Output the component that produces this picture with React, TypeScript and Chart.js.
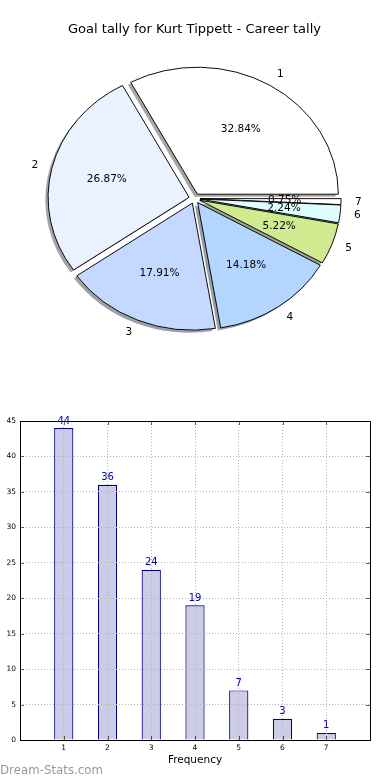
import React, { useEffect, useRef } from 'react';
import { Chart, registerables } from 'chart.js';

Chart.register(...registerables);

// ---------- data ----------
const chartTitle = 'Goal tally for Kurt Tippett - Career tally';
const categories = ['1', '2', '3', '4', '5', '6', '7'];
const goals = [44, 36, 24, 19, 7, 3, 1];
const pieColors = ['#FFFFFF', '#EBF2FF', '#C5D8FF', '#B3D5FF', '#CFEA8F', '#DDFFFF', '#FFFFFF'];
const xTickValues = [1, 2, 3, 4, 5, 6, 7];
const yTickMax = 45;
const yTickStep = 5;
const xAxisTitle = 'Frequency';
const watermarkText = 'Dream-Stats.com';

// ---------- style ----------
const FONT = "'DejaVu Sans', sans-serif";
const PIE_R = 127;
const PIE_SX = 141 / 127;
const EXPLODE = 5;
const SHADOW = 0.02 * PIE_R;
const BAR_FILL = '#CCCCE6';
const BAR_EDGE = '#000080';
const BAR_TEXT = '#0000AA';

const total = goals.reduce((a, b) => a + b, 0);

function hexRgb(h: string) {
  const n = parseInt(h.slice(1), 16);
  return [(n >> 16) & 255, (n >> 8) & 255, n & 255];
}

const piePlugin = {
  id: 'mplPie',
  afterDatasetsUpdate(chart: any) {
    const ca = chart.chartArea;
    const cx = (ca.left + ca.right) / 2;
    const cy = (ca.top + ca.bottom) / 2;
    chart.getDatasetMeta(0).data.forEach((arc: any) => {
      const mid = (arc.startAngle + arc.endAngle) / 2;
      arc.x = cx + Math.cos(mid) * EXPLODE;
      arc.y = cy + Math.sin(mid) * EXPLODE;
    });
  },
  beforeDatasetsDraw(chart: any) {
    const ctx = chart.ctx;
    const ca = chart.chartArea;
    const cx = (ca.left + ca.right) / 2;
    const cy = (ca.top + ca.bottom) / 2;
    ctx.save();
    ctx.translate(cx, cy);
    ctx.scale(PIE_SX, 1);
    ctx.translate(-cx, -cy);
    const bg = chart.data.datasets[0].backgroundColor as string[];
    chart.getDatasetMeta(0).data.forEach((arc: any, i: number) => {
      const [r, g, b] = hexRgb(bg[i]);
      ctx.fillStyle = `rgba(${r * 0.3},${g * 0.3},${b * 0.3},0.5)`;
      const sx = arc.x - SHADOW;
      const sy = arc.y + SHADOW;
      ctx.beginPath();
      ctx.moveTo(sx, sy);
      ctx.arc(sx, sy, arc.outerRadius, arc.startAngle, arc.endAngle);
      ctx.closePath();
      ctx.fill();
    });
  },
  afterDatasetsDraw(chart: any) {
    const ctx = chart.ctx;
    ctx.restore();
    const ca = chart.chartArea;
    const cx = (ca.left + ca.right) / 2;
    const labels = chart.data.labels as string[];
    const vals = chart.data.datasets[0].data as number[];
    ctx.save();
    ctx.font = `10.5px ${FONT}`;
    ctx.fillStyle = '#000';
    ctx.textBaseline = 'middle';
    chart.getDatasetMeta(0).data.forEach((arc: any, i: number) => {
      const mid = (arc.startAngle + arc.endAngle) / 2;
      const c = Math.cos(mid);
      const s = Math.sin(mid);
      const R = arc.outerRadius;
      const ox = cx + (arc.x - cx) * PIE_SX;
      const oy = arc.y;
      const pct = ((vals[i] / total) * 100).toFixed(2) + '%';
      ctx.textAlign = 'center';
      ctx.fillText(pct, ox + 0.6 * R * PIE_SX * c, oy + 0.6 * R * s);
      ctx.textAlign = c > 0 ? 'left' : 'right';
      ctx.fillText(labels[i], ox + 1.1 * R * PIE_SX * c, oy + 1.1 * R * s);
    });
    ctx.restore();
  },
};

const barPlugin = {
  id: 'mplBar',
  afterDraw(chart: any) {
    const ctx = chart.ctx;
    const ca = chart.chartArea;
    const xs = chart.scales.x;
    const ys = chart.scales.y;
    ctx.save();
    // inward ticks
    ctx.strokeStyle = '#000';
    ctx.lineWidth = 0.6;
    ctx.beginPath();
    xTickValues.forEach((v) => {
      const px = Math.round(xs.getPixelForValue(v)) + 0.5;
      ctx.moveTo(px, ca.bottom);
      ctx.lineTo(px, ca.bottom - 4);
      ctx.moveTo(px, ca.top);
      ctx.lineTo(px, ca.top + 4);
    });
    for (let v = yTickStep; v < yTickMax; v += yTickStep) {
      const py = Math.round(ys.getPixelForValue(v)) + 0.5;
      ctx.moveTo(ca.left, py);
      ctx.lineTo(ca.left + 4, py);
      ctx.moveTo(ca.right, py);
      ctx.lineTo(ca.right - 4, py);
    }
    ctx.stroke();
    // frame
    ctx.lineWidth = 1;
    ctx.strokeRect(
      Math.floor(ca.left) + 0.5,
      Math.floor(ca.top) + 0.5,
      Math.round(ca.right - ca.left),
      Math.round(ca.bottom - ca.top)
    );
    // value labels
    ctx.font = `10px ${FONT}`;
    ctx.fillStyle = BAR_TEXT;
    ctx.textAlign = 'center';
    ctx.textBaseline = 'alphabetic';
    const vals = chart.data.datasets[0].data as any[];
    chart.getDatasetMeta(0).data.forEach((bar: any, i: number) => {
      ctx.fillText(String(vals[i].y), bar.x, bar.y - 4.5);
    });
    ctx.restore();
  },
};

export default function App() {
  const pieRef = useRef<HTMLCanvasElement | null>(null);
  const barRef = useRef<HTMLCanvasElement | null>(null);

  useEffect(() => {
    const pieLabels = [...categories].reverse();
    const pieData = [...goals].reverse();
    const pieBg = [...pieColors].reverse();
    const pie = new Chart(pieRef.current as HTMLCanvasElement, {
      type: 'pie',
      data: {
        labels: pieLabels,
        datasets: [
          {
            data: pieData,
            backgroundColor: pieBg,
            borderColor: '#000',
            borderWidth: 0.9,
          },
        ],
      },
      options: {
        animation: false,
        responsive: false,
        devicePixelRatio: 1,
        rotation: 90,
        radius: PIE_R,
        layout: { padding: { left: 0, right: 1, top: 0, bottom: 40.6 } },
        plugins: {
          legend: { display: false },
          tooltip: { enabled: false },
          title: {
            display: true,
            text: chartTitle,
            color: '#000',
            font: { family: FONT, size: 13, weight: 'normal' },
            padding: { top: 22, bottom: 0 },
          },
        },
      } as any,
      plugins: [piePlugin as any],
    });

    const tickFont = { family: FONT, size: 7.5 };
    const bar = new Chart(barRef.current as HTMLCanvasElement, {
      type: 'bar',
      data: {
        datasets: [
          {
            data: categories.map((c, i) => ({ x: Number(c), y: goals[i] })),
            backgroundColor: BAR_FILL,
            borderColor: BAR_EDGE,
            borderWidth: 1.2,
            barPercentage: 0.44,
            categoryPercentage: 1,
          },
        ],
      },
      options: {
        animation: false,
        responsive: false,
        devicePixelRatio: 1,
        layout: { padding: { left: 0, right: 20, top: 21, bottom: 0 } },
        plugins: { legend: { display: false }, tooltip: { enabled: false } },
        scales: {
          x: {
            type: 'linear',
            min: 0,
            max: xTickValues.length + 1,
            offset: false,
            ticks: {
              stepSize: 1,
              padding: 3.5,
              autoSkip: false,
              maxRotation: 0,
              color: '#000',
              font: tickFont,
              callback: (v: any) => {
                const idx = xTickValues.indexOf(Number(v));
                return idx >= 0 ? categories[idx] : '';
              },
            },
            grid: { color: '#b4b4b4', lineWidth: 1, drawTicks: false, z: 1, offset: false },
            border: { display: false, dash: [1, 2] },
            title: {
              display: true,
              text: xAxisTitle,
              color: '#000',
              font: { family: FONT, size: 10.5 },
              padding: { top: 0, bottom: 13.7 },
            },
            afterFit: (s: any) => {
              s.height = 40;
            },
          },
          y: {
            min: 0,
            max: yTickMax,
            ticks: { stepSize: yTickStep, padding: 4, color: '#000', font: tickFont },
            grid: { color: '#b4b4b4', lineWidth: 1, drawTicks: false, z: 1 },
            border: { display: false, dash: [1, 2] },
            afterFit: (s: any) => {
              s.width = 20;
            },
          },
        },
      } as any,
      plugins: [barPlugin as any],
    });

    return () => {
      pie.destroy();
      bar.destroy();
    };
  }, []);

  return (
    <div
      style={{
        position: 'absolute',
        left: 0,
        top: 0,
        width: 390,
        height: 780,
        overflow: 'hidden',
        background: '#fff',
      }}
    >
      <canvas
        ref={pieRef}
        width={390}
        height={400}
        style={{ position: 'absolute', left: 0, top: 0, width: 390, height: 400, display: 'block' }}
      />
      <canvas
        ref={barRef}
        width={390}
        height={380}
        style={{ position: 'absolute', left: 0, top: 400, width: 390, height: 380, display: 'block' }}
      />
      <div
        style={{
          position: 'absolute',
          left: 0,
          top: 763,
          height: 14,
          lineHeight: '14px',
          fontFamily: FONT,
          fontSize: 11.8,
          color: '#999999',
          whiteSpace: 'nowrap',
        }}
      >
        {watermarkText}
      </div>
    </div>
  );
}
